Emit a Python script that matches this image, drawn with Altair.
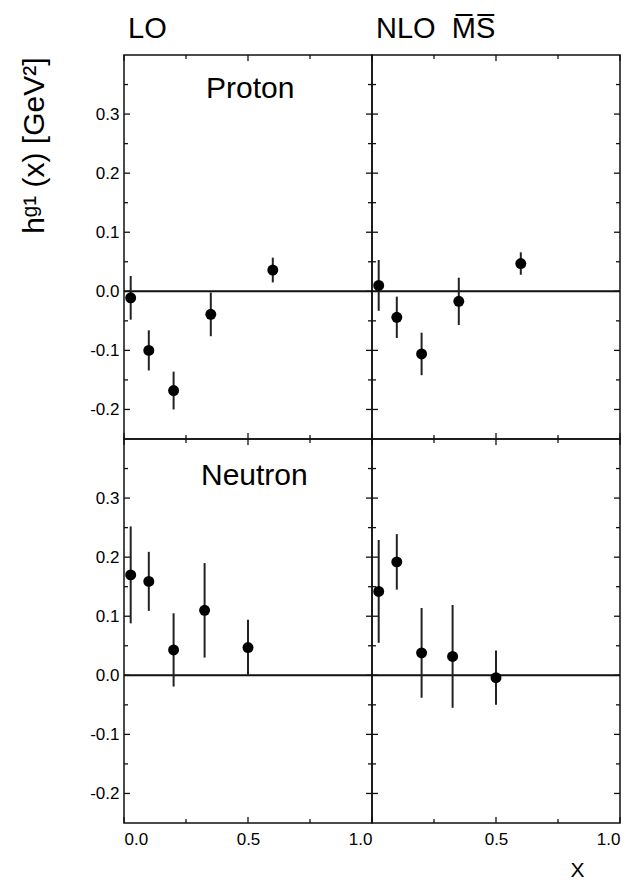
import altair as alt
import pandas as pd

FONT = "Liberation Sans"

# ---- data ----
p_x = [0.027, 0.1, 0.2, 0.35, 0.6]
p_lo_y = [-0.011, -0.100, -0.168, -0.039, 0.036]
p_lo_err = [0.037, 0.034, 0.032, 0.037, 0.021]
p_nlo_y = [0.010, -0.044, -0.106, -0.017, 0.047]
p_nlo_err = [0.043, 0.035, 0.036, 0.040, 0.019]

n_x = [0.027, 0.1, 0.2, 0.325, 0.5]
n_lo_y = [0.170, 0.159, 0.043, 0.110, 0.047]
n_lo_err = [0.082, 0.050, 0.062, 0.080, 0.047]
n_nlo_y = [0.142, 0.192, 0.038, 0.032, -0.004]
n_nlo_err = [0.087, 0.047, 0.076, 0.087, 0.046]

x_major = [0.0, 0.5, 1.0]
x_minor = [0.25, 0.75]
y_major = [-0.2, -0.1, 0.0, 0.1, 0.2, 0.3]
y_minor = [-0.15, -0.05, 0.05, 0.15, 0.25, 0.35]
zero_line = [0.0]

W, H = 248, 384
MAJ, MIN = 6, 4
XS = alt.Scale(domain=[0, 1], nice=False, zero=False)
YS = alt.Scale(domain=[-0.25, 0.4], nice=False, zero=False)
INK = "#111"
LABEL_EXPR = "replace(format(datum.value, '.1f'), '\u2212', '-')"


def panel(x, y, err, label=None, label_xy=(0, 0), xaxis=None, yaxis=None, title=None):
    df = pd.DataFrame({"x": x, "y": y,
                       "lo": [a - b for a, b in zip(y, err)],
                       "hi": [a + b for a, b in zip(y, err)]})
    X = lambda: alt.X("x:Q", scale=XS, axis=xaxis)
    Y = lambda f="y:Q": alt.Y(f, scale=YS, axis=yaxis)

    layers = []
    zl = pd.DataFrame({"y": zero_line})
    layers.append(alt.Chart(zl).mark_rule(color=INK, strokeWidth=2).encode(
        y=Y(), x=alt.value(0), x2=alt.value(W)))
    layers.append(alt.Chart(df).mark_rule(color="#222", strokeWidth=2).encode(
        x=X(), y=Y("lo:Q"), y2="hi:Q"))
    layers.append(alt.Chart(df).mark_circle(color="black", opacity=1, size=120).encode(
        x=X(), y=Y()))
    # inward ticks on all four sides
    for vals, ln in ((x_major, MAJ), (x_minor, MIN)):
        d = pd.DataFrame({"x": vals})
        layers.append(alt.Chart(d).mark_rule(color=INK, strokeWidth=1.3).encode(
            x=X(), y=alt.value(H), y2=alt.value(H - ln)))
        layers.append(alt.Chart(d).mark_rule(color=INK, strokeWidth=1.3).encode(
            x=X(), y=alt.value(0), y2=alt.value(ln)))
    for vals, ln in ((y_major, MAJ), (y_minor, MIN)):
        d = pd.DataFrame({"y": vals})
        layers.append(alt.Chart(d).mark_rule(color=INK, strokeWidth=1.3).encode(
            y=Y(), x=alt.value(0), x2=alt.value(ln)))
        layers.append(alt.Chart(d).mark_rule(color=INK, strokeWidth=1.3).encode(
            y=Y(), x=alt.value(W), x2=alt.value(W - ln)))
    if label:
        t = pd.DataFrame({"t": [label]})
        layers.append(alt.Chart(t).mark_text(
            font=FONT, fontSize=30, align="left", baseline="alphabetic", color="black"
        ).encode(x=alt.value(label_xy[0]), y=alt.value(label_xy[1]), text="t:N"))
    ch = alt.layer(*layers).properties(width=W, height=H)
    if title is not None:
        ch = ch.properties(title=title)
    return ch


def ttl(text):
    return alt.TitleParams(text=text, anchor="start", frame="group", font=FONT,
                           fontSize=29, fontWeight="normal", color="black",
                           baseline="alphabetic", offset=-13, dx=4)


ylab = dict(values=y_major, ticks=False, domain=False, grid=False, labelExpr=LABEL_EXPR,
            labelFont=FONT, labelFontSize=17, labelColor="black", labelPadding=5)
yaxis_top = alt.Axis(title="hᵍ¹ (x) [GeV²]", titleFont=FONT, titleFontSize=30,
                     titleFontWeight="normal", titleColor="black", titleAngle=270,
                     titleAlign="right", titleBaseline="alphabetic",
                     titleX=-81, titleY=2, **ylab)
yaxis_bot = alt.Axis(title=None, **ylab)

xlab = dict(ticks=False, domain=False, grid=False, labelExpr=LABEL_EXPR,
            labelFont=FONT, labelFontSize=17, labelColor="black", labelPadding=8)
xaxis_left = alt.Axis(values=x_major, title=None, **xlab)
xaxis_right = alt.Axis(values=[0.5, 1.0], title="X", titleFont=FONT, titleFontSize=21,
                       titleFontWeight="normal", titleColor="black",
                       titleBaseline="alphabetic", titleAlign="center",
                       titleX=205, titleY=53, **xlab)

tl = panel(p_x, p_lo_y, p_lo_err, "Proton", (82, 43), xaxis=None, yaxis=yaxis_top,
           title=ttl("LO"))
tr = panel(p_x, p_nlo_y, p_nlo_err, xaxis=None, yaxis=None,
           title=ttl("NLO\u00a0\u00a0M\u0305S\u0305"))
bl = panel(n_x, n_lo_y, n_lo_err, "Neutron", (77, 46), xaxis=xaxis_left, yaxis=yaxis_bot)
br = panel(n_x, n_nlo_y, n_nlo_err, xaxis=xaxis_right, yaxis=None)

chart = alt.concat(tl, tr, bl, br, columns=2, spacing=0, bounds="flush").properties(
    padding={"left": 10, "top": 6, "right": 0, "bottom": 0}
).configure(
    background="white",
    view=alt.ViewConfig(stroke=INK, strokeWidth=1.5),
)

chart.save("out.html", embed_options={"renderer": "svg", "actions": False})
